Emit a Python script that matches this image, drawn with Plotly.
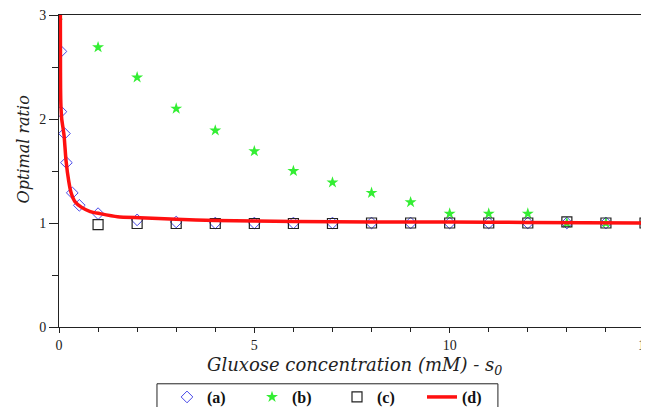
import plotly.graph_objects as go

# (a) diamonds
a_x = [0.05, 0.05, 0.14, 0.19, 0.34, 0.52, 1, 2, 3, 4, 5, 6, 7, 8, 9, 10, 11, 12, 13, 14, 15]
a_y = [2.65, 2.07, 1.86, 1.58, 1.29, 1.17, 1.09, 1.03, 1.01, 1.0, 1.0, 1.0, 1.0, 1.0, 1.0, 1.0, 1.0, 1.0, 1.0, 1.0, 1.0]

# (b) stars
b_x = [0, 1, 2, 3, 4, 5, 6, 7, 8, 9, 10, 11, 12, 13, 14, 15]
b_y = [3.0, 2.69, 2.4, 2.1, 1.89, 1.69, 1.5, 1.39, 1.29, 1.2, 1.09, 1.09, 1.09, 1.0, 1.0, 1.0]

# (c) squares
c_x = [1, 2, 3, 4, 5, 6, 7, 8, 9, 10, 11, 12, 13, 14, 15]
c_y = [0.985, 0.995, 0.995, 0.995, 0.995, 0.995, 0.995, 1.0, 1.0, 1.0, 1.0, 1.0, 1.01, 1.0, 1.0]

# (d) red curve
d_x = [0.035, 0.037, 0.04, 0.05, 0.07, 0.1, 0.13, 0.18, 0.25, 0.31, 0.4, 0.58, 0.8, 1.05, 1.5, 2.07, 3, 4, 5, 6, 8, 10, 12, 15]
d_y = [3.0, 2.6, 2.3, 2.12, 2.0, 1.92, 1.84, 1.6, 1.4, 1.29, 1.21, 1.15, 1.11, 1.09, 1.06, 1.05, 1.035, 1.025, 1.02, 1.015, 1.01, 1.01, 1.005, 1.0]

x_ticks = [0, 5, 10, 15]
y_ticks = [0, 1, 2, 3]

serif = "Liberation Serif"
ital = "DejaVu Serif"

fig = go.Figure()
fig.add_trace(go.Scatter(x=a_x, y=a_y, mode="markers", name="(a)",
                         marker=dict(symbol="diamond-open", size=9, color="#4848e8", line=dict(width=1))))
fig.add_trace(go.Scatter(x=b_x, y=b_y, mode="markers", name="(b)",
                         marker=dict(symbol="star", size=9, color="#33ee33", line=dict(width=0))))
fig.add_trace(go.Scatter(x=c_x, y=c_y, mode="markers", name="(c)",
                         marker=dict(symbol="square-open", size=10, color="#222222", line=dict(width=1.2))))
fig.add_trace(go.Scatter(x=d_x, y=d_y, mode="lines", name="(d)",
                         line=dict(color="#ff1010", width=3.5, shape="spline", smoothing=0.6)))

axis_common = dict(showline=True, linecolor="#222222", linewidth=1, mirror=True,
                   showgrid=False, zeroline=False, ticks="outside",
                   tickcolor="#222222", tickfont=dict(family=serif, size=14, color="#222222"),
                   ticklabeloverflow="allow")

fig.update_xaxes(range=[0, 15], tickvals=x_ticks, ticktext=[str(v) for v in x_ticks], ticklen=5,
                 minor=dict(dtick=1, ticks="outside", ticklen=4, tickcolor="#222222"),
                 **axis_common)
fig.update_yaxes(range=[0, 3], tickvals=y_ticks, ticktext=[str(v) for v in y_ticks], ticklen=9,
                 minor=dict(dtick=0.5, ticks="outside", ticklen=6, tickcolor="#222222"),
                 **axis_common)

fig.add_annotation(text="Optimal ratio", textangle=-90, xref="paper", yref="paper",
                   x=-0.061, y=0.57, xanchor="center", yanchor="middle", showarrow=False,
                   font=dict(family=ital, size=16, color="#222222", style="italic"))
fig.add_annotation(text="Gluxose concentration (mM) - s<sub>0</sub>", xref="paper", yref="paper",
                   x=0.505, y=-0.124, xanchor="center", yanchor="middle", showarrow=False,
                   font=dict(family=ital, size=18, color="#222222", style="italic"))

# legend frame
fig.add_shape(type="rect", xref="paper", yref="paper", x0=0.1672, x1=0.749, y0=-0.182, y1=-0.30,
              line=dict(color="#222222", width=1), fillcolor="rgba(0,0,0,0)")

fig.update_layout(
    width=641, height=399,
    margin=dict(l=51, r=4, t=7, b=80, autoexpand=False),
    plot_bgcolor="white", paper_bgcolor="white",
    legend=dict(orientation="h", x=0.1843, y=-0.170, xanchor="left", yanchor="top",
                borderwidth=0, bgcolor="rgba(0,0,0,0)", entrywidth=40,
                font=dict(family=serif, size=16, color="#111111", weight="bold")),
)

fig.write_html("out.html")
